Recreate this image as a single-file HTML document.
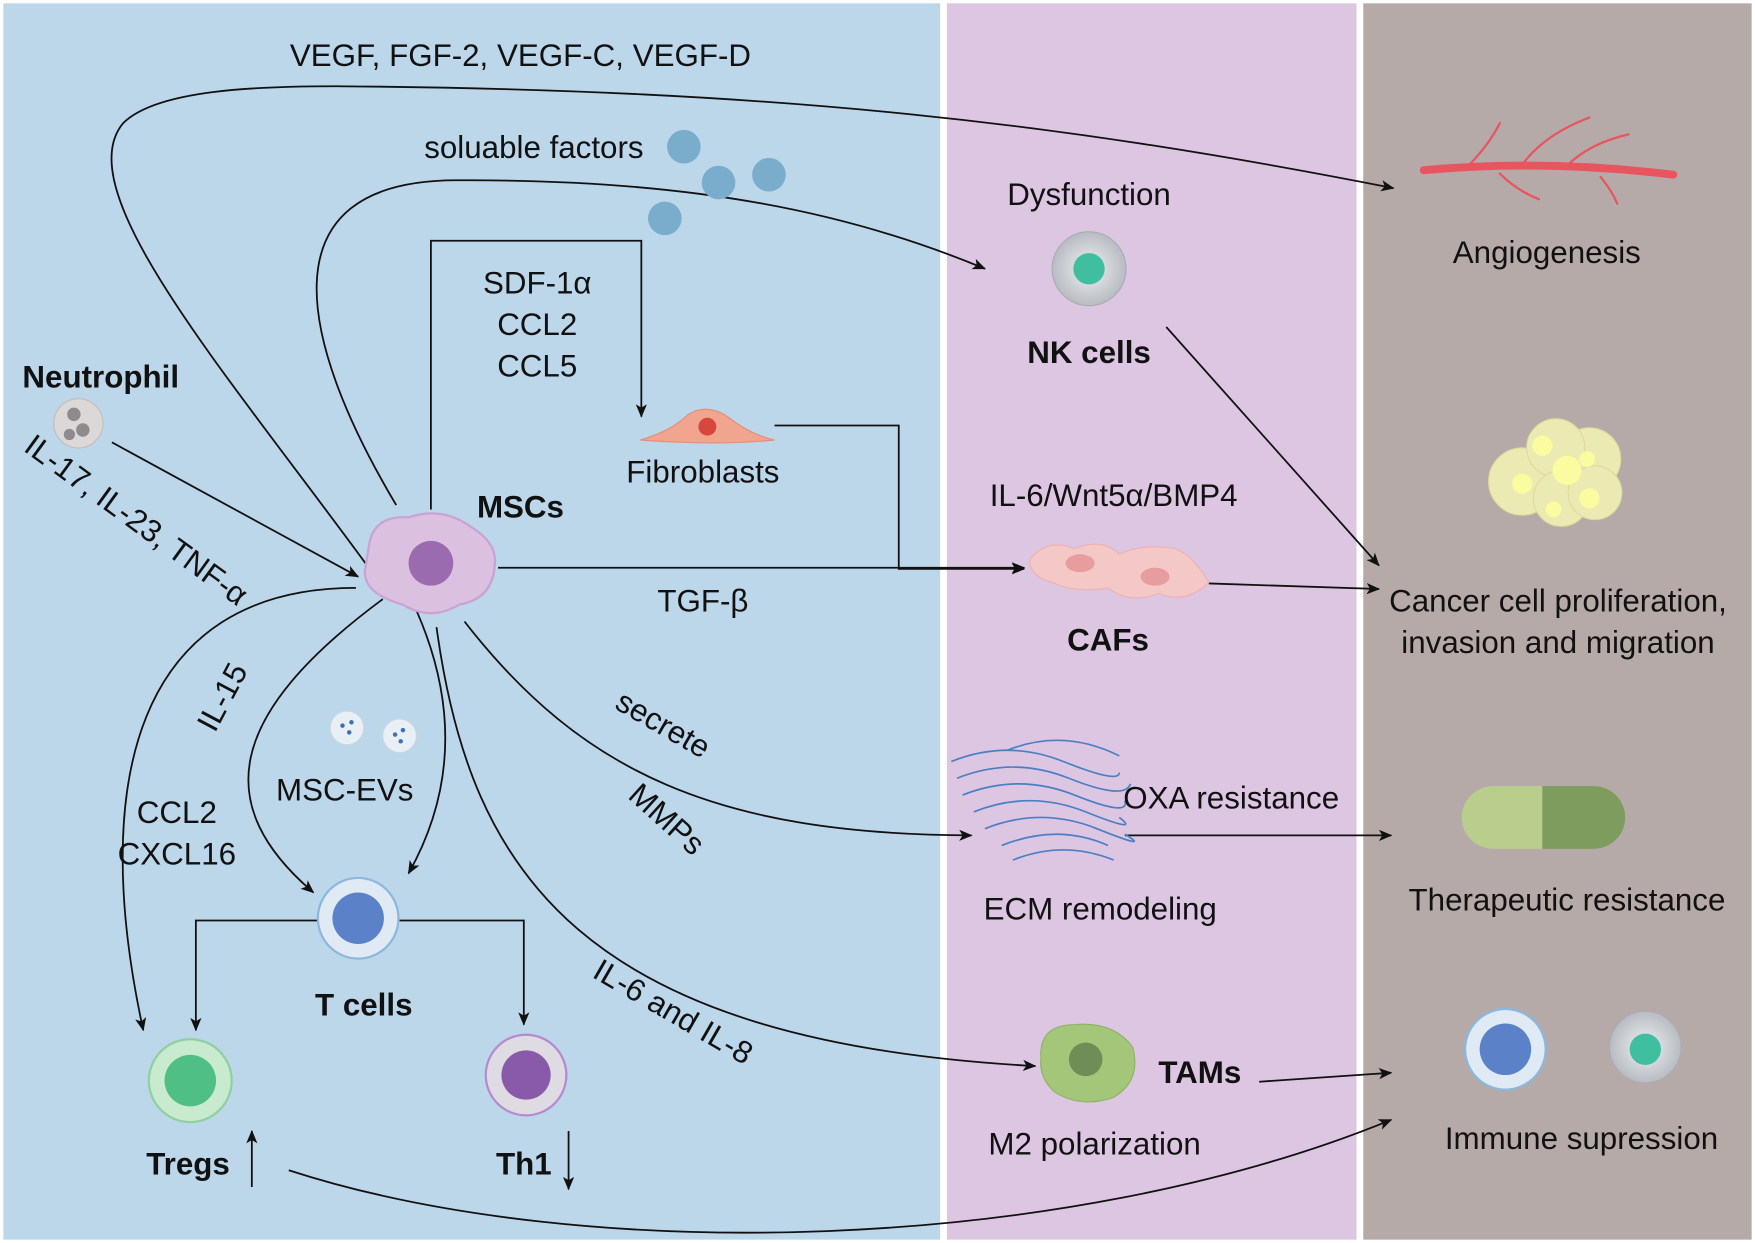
<!DOCTYPE html>
<html><head><meta charset="utf-8"><style>
html,body{margin:0;padding:0;background:#fff}
svg{display:block}
text{font-family:"Liberation Sans",Arial,sans-serif;fill:#111}
</style></head><body>
<svg width="1755" height="1243" viewBox="0 0 1568 1110" preserveAspectRatio="none" xmlns="http://www.w3.org/2000/svg">
<defs>
<marker id="a" markerWidth="12" markerHeight="10" refX="11" refY="5" orient="auto" markerUnits="userSpaceOnUse"><path d="M0,0 L12,5 L0,10 L3,5 Z" fill="#111"/></marker>
<radialGradient id="nk" cx="50%" cy="50%" r="50%"><stop offset="0" stop-color="#eef0f2"/><stop offset="1" stop-color="#b8bcc2"/></radialGradient>
</defs>
<rect x="0" y="0" width="1568" height="1110" fill="#fff"/>
<rect x="3" y="3" width="837" height="1104" fill="#bcd6ea"/>
<rect x="846" y="3" width="366" height="1104" fill="#dcc6e2"/>
<rect x="1218" y="3" width="347" height="1104" fill="#b5aaa8"/>

<g stroke="#111" stroke-width="1.6" fill="none">
<path d="M328 505 C 200 330, 60 170, 110 110 C 140 80, 230 77, 300 77 C 700 80, 950 110, 1245 168" marker-end="url(#a)"/>
<path d="M354 451 C 270 310, 230 160, 410 161 C 620 160, 760 190, 880 240" marker-end="url(#a)"/>
<path d="M385 455 L385 215 L573 215 L573 372" marker-end="url(#a)"/>
<path d="M692 380 L803 380 L803 508 L915 508" marker-end="url(#a)"/>
<path d="M445 507 L915 507" marker-end="url(#a)"/>
<path d="M100 395 L320 515" marker-end="url(#a)"/>
<path d="M1042 292 L1232 505" marker-end="url(#a)"/>
<path d="M1080 521 L1232 526" marker-end="url(#a)"/>
<path d="M1005 746 L1243 746" marker-end="url(#a)"/>
<path d="M1125 966 L1243 958" marker-end="url(#a)"/>
<path d="M415 555 C 520 690, 640 745, 868 746" marker-end="url(#a)"/>
<path d="M390 560 C 420 780, 520 930, 925 952" marker-end="url(#a)"/>
<path d="M258 1045 C 520 1130, 950 1120, 1243 1000" marker-end="url(#a)"/>
<path d="M318 525 C 120 525, 80 700, 128 920" marker-end="url(#a)"/>
<path d="M342 535 C 200 640, 190 720, 280 797" marker-end="url(#a)"/>
<path d="M372 545 C 405 620, 410 700, 365 780" marker-end="url(#a)"/>
<path d="M285 822 L175 822 L175 920" marker-end="url(#a)"/>
<path d="M357 822 L468 822 L468 915" marker-end="url(#a)"/>
<path d="M225 1060 L225 1010" marker-end="url(#a)"/>
<path d="M508 1010 L508 1062" marker-end="url(#a)"/>
</g>

<g fill="#7aaccc"><circle cx="611" cy="131" r="15"/><circle cx="642" cy="163" r="15"/><circle cx="687" cy="156" r="15"/><circle cx="594" cy="195" r="15"/></g>

<path d="M330 485 Q335 460 365 462 Q395 452 420 470 Q445 485 442 505 Q440 535 410 540 Q385 555 360 540 Q325 530 326 510 Z" fill="#dcc0e0" stroke="#c8a3d4" stroke-width="2"/>
<circle cx="385" cy="503" r="20" fill="#9b6bb0"/>
<circle cx="70" cy="378" r="22" fill="#dcd8d8" stroke="#c2bcbc"/>
<circle cx="66" cy="370" r="6" fill="#8f8a8e"/><circle cx="74" cy="384" r="6" fill="#8f8a8e"/><circle cx="62" cy="388" r="5" fill="#8f8a8e"/>
<path d="M572 393 Q600 385 615 370 Q632 360 650 372 Q670 388 692 393 Q640 398 572 393 Z" fill="#f1a58e" stroke="#e58d78"/>
<circle cx="632" cy="381" r="8" fill="#d8473c"/>
<circle cx="973" cy="240" r="33" fill="url(#nk)" stroke="#a9adb2"/>
<circle cx="973" cy="240" r="14" fill="#3fbfa0"/>
<path d="M920 500 Q935 480 960 490 Q985 480 1000 495 Q1020 485 1050 490 Q1065 495 1080 520 Q1060 540 1035 530 Q1010 540 990 525 Q960 530 940 520 Q920 515 920 500 Z" fill="#f5c8c8" stroke="#eeb0b0"/>
<ellipse cx="965" cy="503" rx="13" ry="8" fill="#e79c9e"/><ellipse cx="1032" cy="515" rx="13" ry="8" fill="#e79c9e"/>
<g stroke="#4a7fc4" stroke-width="1.5" fill="none">
<path d="M850 680 Q900 660 950 680 T1000 690"/><path d="M855 695 Q905 675 955 695 T1010 700"/>
<path d="M860 710 Q910 690 960 710 T1005 715"/><path d="M870 725 Q920 705 970 725 T1000 730"/>
<path d="M880 740 Q930 720 980 740 T1005 745"/><path d="M895 755 Q945 735 990 755"/>
<path d="M905 768 Q950 750 995 768"/><path d="M900 670 Q950 650 1000 675"/>
</g>
<path d="M930 945 Q928 915 960 915 Q995 912 1012 935 Q1020 965 995 980 Q965 990 942 975 Q928 962 930 945 Z" fill="#a3c678" stroke="#8fb267"/>
<circle cx="970" cy="946" r="15" fill="#6f8d56"/>
<g stroke="#e8555f" fill="none" stroke-linecap="round">
<path d="M1272 152 Q1380 142 1495 156" stroke-width="7"/>
<path d="M1310 150 Q1330 130 1340 110" stroke-width="2"/><path d="M1360 147 Q1380 120 1420 105" stroke-width="2"/>
<path d="M1400 148 Q1420 128 1455 120" stroke-width="2"/><path d="M1340 155 Q1355 170 1375 178" stroke-width="2"/>
<path d="M1430 158 Q1440 170 1445 182" stroke-width="2"/>
</g>
<g fill="#f3f2b5" stroke="#e3e09a" opacity="0.9">
<circle cx="1360" cy="430" r="30"/><circle cx="1420" cy="410" r="28"/><circle cx="1390" cy="400" r="26"/><circle cx="1395" cy="445" r="25"/><circle cx="1425" cy="440" r="24"/>
</g>
<g fill="#fbfba0"><circle cx="1378" cy="398" r="9"/><circle cx="1400" cy="420" r="13"/><circle cx="1360" cy="432" r="9"/><circle cx="1420" cy="445" r="9"/><circle cx="1388" cy="455" r="7"/><circle cx="1418" cy="410" r="7"/></g>
<path d="M1334 702 L1378 702 L1378 758 L1334 758 A28 28 0 0 1 1334 702 Z" fill="#b9cd8c"/>
<path d="M1378 702 L1424 702 A28 28 0 0 1 1424 758 L1378 758 Z" fill="#7e9c5e"/>
<circle cx="1345" cy="937" r="36" fill="#dfeaf4" stroke="#8bb8dd" stroke-width="2"/><circle cx="1345" cy="937" r="23" fill="#5b82c8"/>
<circle cx="1470" cy="935" r="32" fill="url(#nk)" stroke="#a9adb2"/><circle cx="1470" cy="937" r="14" fill="#3fbfa0"/>
<circle cx="310" cy="650" r="15" fill="#e8f0f6" stroke="#c9d8e6"/><circle cx="357" cy="657" r="15" fill="#e8f0f6" stroke="#c9d8e6"/>
<g fill="#3f6fb8"><circle cx="306" cy="648" r="2"/><circle cx="312" cy="654" r="2"/><circle cx="314" cy="645" r="2"/><circle cx="353" cy="656" r="2"/><circle cx="360" cy="652" r="2"/><circle cx="358" cy="662" r="2"/></g>
<circle cx="320" cy="820" r="36" fill="#dfeaf4" stroke="#8bb8dd" stroke-width="2"/><circle cx="320" cy="820" r="23" fill="#5b82c8"/>
<circle cx="170" cy="965" r="37" fill="#c8ebd0" stroke="#8fd0a0" stroke-width="2"/><circle cx="170" cy="965" r="23" fill="#4fbf86"/>
<circle cx="470" cy="960" r="36" fill="#dedbe2" stroke="#b58ad0" stroke-width="2"/><circle cx="470" cy="960" r="22" fill="#8a5aaa"/>

<g font-size="28" text-anchor="middle">
<text x="465" y="59">VEGF, FGF-2, VEGF-C, VEGF-D</text>
<text x="477" y="141">soluable factors</text>
<text x="480" y="262">SDF-1α</text><text x="480" y="299">CCL2</text><text x="480" y="336">CCL5</text>
<text x="628" y="431">Fibroblasts</text>
<text x="628" y="546">TGF-β</text>
<text x="308" y="715">MSC-EVs</text>
<text x="158" y="735">CCL2</text><text x="158" y="772">CXCL16</text>
<text x="973" y="183">Dysfunction</text>
<text x="995" y="452">IL-6/Wnt5α/BMP4</text>
<text x="1100" y="722">OXA resistance</text>
<text x="983" y="821">ECM remodeling</text>
<text x="978" y="1031">M2 polarization</text>
<text x="1382" y="235">Angiogenesis</text>
<text x="1392" y="546">Cancer cell proliferation,</text>
<text x="1392" y="583">invasion and migration</text>
<text x="1400" y="813">Therapeutic resistance</text>
<text x="1413" y="1026">Immune supression</text>
</g>
<g font-size="28" text-anchor="middle" font-weight="bold">
<text x="90" y="346">Neutrophil</text>
<text x="465" y="462">MSCs</text>
<text x="973" y="324">NK cells</text>
<text x="990" y="581">CAFs</text>
<text x="1072" y="967">TAMs</text>
<text x="325" y="907">T cells</text>
<text x="168" y="1049">Tregs</text>
<text x="468" y="1049">Th1</text>
</g>
<g font-size="28">
<text transform="translate(20,402) rotate(36)">IL-17, IL-23, TNF-α</text>
<text transform="translate(192,655) rotate(-62)">IL-15</text>
<text transform="translate(548,632) rotate(30)">secrete</text>
<text transform="translate(560,712) rotate(42)">MMPs</text>
<text transform="translate(528,872) rotate(30)">IL-6 and IL-8</text>
</g>
</svg>
</body></html>
